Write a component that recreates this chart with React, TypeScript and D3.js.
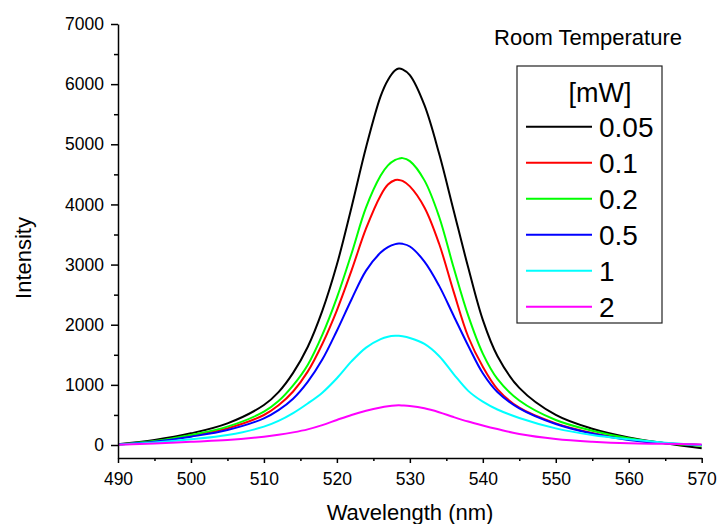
import React, { useEffect, useRef } from 'react';
import * as d3 from 'd3';

// wavelength grid (nm) the curves were read at
const wavelength = [490, 495, 500, 505, 510, 512, 514, 516, 518, 520, 522, 524, 526, 527, 528, 528.5, 529, 530, 532, 534, 536, 538, 540, 542, 545, 550, 555, 560, 565, 570];

// intensity for each excitation power
const p005 = [12, 83, 194, 360, 665, 880, 1200, 1630, 2230, 3000, 3950, 4950, 5800, 6070, 6230, 6260, 6245, 6150, 5650, 4850, 3900, 2950, 2080, 1480, 950, 500, 270, 125, 28, -55];
const p01 = [10, 60, 150, 277, 499, 660, 890, 1220, 1680, 2240, 2900, 3600, 4150, 4330, 4405, 4408, 4390, 4300, 3950, 3350, 2550, 1800, 1300, 930, 620, 360, 200, 94, 28, 0];
const p02 = [10, 65, 166, 305, 554, 730, 990, 1330, 1830, 2450, 3180, 3950, 4480, 4650, 4740, 4762, 4770, 4720, 4400, 3800, 2950, 2150, 1520, 1100, 740, 416, 238, 111, 28, -11];
const p05 = [8, 55, 139, 249, 443, 580, 770, 1050, 1420, 1900, 2420, 2900, 3200, 3290, 3340, 3350, 3345, 3300, 3050, 2650, 2150, 1650, 1192, 880, 610, 350, 190, 83, 28, 0];
const p1 = [5, 40, 94, 166, 305, 400, 530, 690, 870, 1110, 1390, 1620, 1760, 1800, 1815, 1815, 1808, 1780, 1680, 1480, 1180, 900, 720, 590, 450, 277, 166, 94, 39, 0];
const p2 = [5, 25, 55, 83, 139, 170, 210, 260, 330, 416, 500, 570, 625, 645, 658, 660, 657, 648, 610, 545, 465, 390, 325, 265, 183, 100, 55, 28, 20, 8];

const powerLabels = ['0.05', '0.1', '0.2', '0.5', '1', '2'];
const seriesValues = [p005, p01, p02, p05, p1, p2];
const lineColors = ['#000000', '#ff0000', '#00ff00', '#0000ff', '#00ffff', '#ff00ff'];

const xTicks = [490, 500, 510, 520, 530, 540, 550, 560, 570];
const yTicks = [0, 1000, 2000, 3000, 4000, 5000, 6000, 7000];

const FONT = '"Liberation Sans", Arial, sans-serif';

const App = () => {
    const svgRef = useRef<SVGSVGElement>(null);

    useEffect(() => {
        const svg = d3.select(svgRef.current);
        svg.selectAll('*').remove();

        const x = d3.scaleLinear().domain([490, 570]).range([118, 701.7]);
        const y = d3.scaleLinear().domain([-216, 7000]).range([458, 24]);

        // curves
        const line = d3.line<number>()
            .x((_, i) => x(wavelength[i]))
            .y((d) => y(d))
            .curve(d3.curveCatmullRom.alpha(0.5));

        seriesValues.forEach((vals, k) => {
            svg.append('path')
                .datum(vals)
                .attr('fill', 'none')
                .attr('stroke', lineColors[k])
                .attr('stroke-width', 2)
                .attr('d', line);
        });

        // x axis
        const xAxis = svg.append('g').attr('transform', `translate(0,${y(-216)})`);
        xAxis.call(d3.axisBottom(x).tickValues(xTicks).tickSize(5).tickSizeOuter(0).tickPadding(10).tickFormat(d3.format('d')));
        xAxis.append('g')
            .call(d3.axisBottom(x).tickValues(d3.range(495, 570, 10)).tickSize(3).tickFormat(() => ''))
            .select('.domain').remove();

        // y axis
        const yAxis = svg.append('g').attr('transform', `translate(${x(490)},0)`);
        yAxis.call(d3.axisLeft(y).tickValues(yTicks).tickSize(7).tickSizeOuter(0).tickPadding(7).tickFormat(d3.format('d')));
        yAxis.append('g')
            .call(d3.axisLeft(y).tickValues(d3.range(500, 7000, 1000)).tickSize(4).tickFormat(() => ''))
            .select('.domain').remove();

        svg.selectAll('.domain, .tick line')
            .attr('stroke', '#000')
            .attr('stroke-width', 1.5);
        svg.selectAll('.tick text')
            .attr('fill', '#000')
            .style('font-family', FONT)
            .style('font-size', '17.5px');

        // axis titles
        svg.append('text')
            .attr('x', 410)
            .attr('y', 520)
            .attr('text-anchor', 'middle')
            .style('font-family', FONT)
            .style('font-size', '22px')
            .text('Wavelength (nm)');

        svg.append('text')
            .attr('transform', 'translate(31,258) rotate(-90)')
            .attr('text-anchor', 'middle')
            .style('font-family', FONT)
            .style('font-size', '22px')
            .text('Intensity');

        svg.append('text')
            .attr('x', 588)
            .attr('y', 45)
            .attr('text-anchor', 'middle')
            .style('font-family', FONT)
            .style('font-size', '22px')
            .text('Room Temperature');

        // legend
        const legend = svg.append('g');
        legend.append('rect')
            .attr('x', 517).attr('y', 66)
            .attr('width', 145).attr('height', 257)
            .attr('fill', 'none')
            .attr('stroke', '#222')
            .attr('stroke-width', 1.2);
        legend.append('text')
            .attr('x', 600).attr('y', 102)
            .attr('text-anchor', 'middle')
            .style('font-family', FONT)
            .style('font-size', '27px')
            .text('[mW]');

        powerLabels.forEach((label, i) => {
            const ly = 126.7 + i * 36;
            legend.append('line')
                .attr('x1', 526).attr('x2', 592)
                .attr('y1', ly).attr('y2', ly)
                .attr('stroke', lineColors[i])
                .attr('stroke-width', 2);
            legend.append('text')
                .attr('x', 599).attr('y', ly + 10)
                .style('font-family', FONT)
                .style('font-size', '28px')
                .text(label);
        });
    }, []);

    return (
        <svg ref={svgRef} width={719} height={524}
            style={{ position: 'absolute', left: 0, top: 0, background: '#fff' }} />
    );
};

export default App;
